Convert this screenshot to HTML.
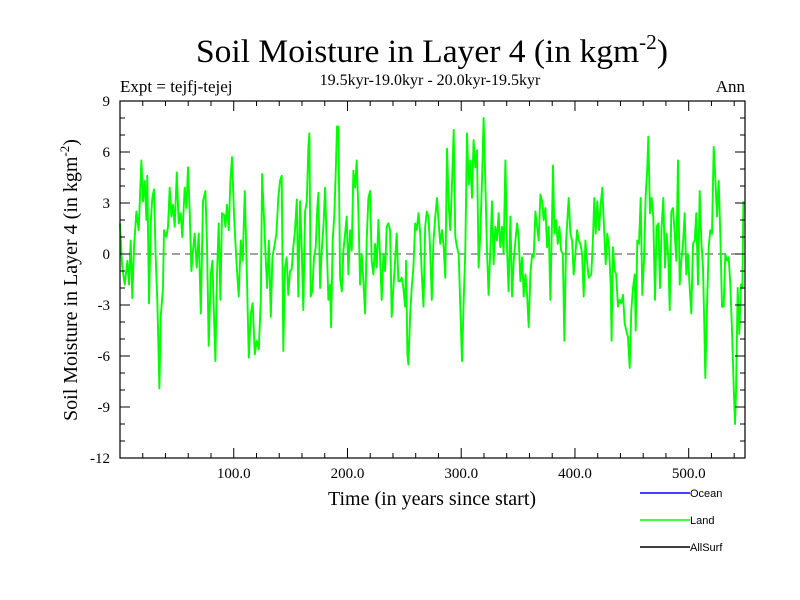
<!DOCTYPE html>
<html><head><meta charset="utf-8"><style>
body{margin:0;background:#fff}
svg{display:block;font-family:"Liberation Serif",serif}
</style></head><body>
<svg id="c" width="800" height="600">
<text x="432" y="62" text-anchor="middle" font-size="33" textLength="472" lengthAdjust="spacingAndGlyphs">Soil Moisture in Layer 4 (in kgm<tspan dy="-13" font-size="21">-2</tspan><tspan dy="13">)</tspan></text>
<text x="430" y="85" text-anchor="middle" font-size="16">19.5kyr-19.0kyr - 20.0kyr-19.5kyr</text>
<text x="120" y="92" font-size="17">Expt = tejfj-tejej</text>
<text x="745" y="92" text-anchor="end" font-size="17">Ann</text>
<text x="432" y="505" text-anchor="middle" font-size="20">Time (in years since start)</text>
<text transform="translate(77,280) rotate(-90)" text-anchor="middle" font-size="20">Soil Moisture in Layer 4 (in kgm<tspan dy="-8" font-size="13">-2</tspan><tspan dy="8">)</tspan></text>
<g id="axes"></g>
<g id="legend" font-family="Liberation Sans, sans-serif" font-size="11">
<line x1="640" y1="493" x2="690" y2="493" stroke="#0000ff" stroke-width="1.5"/>
<text x="690" y="497">Ocean</text>
<line x1="640" y1="520" x2="690" y2="520" stroke="#00ff00" stroke-width="1.5"/>
<text x="690" y="524">Land</text>
<line x1="640" y1="547" x2="690" y2="547" stroke="#000" stroke-width="1.5"/>
<text x="690" y="551">AllSurf</text>
</g>
</svg>
<script>
const years=[0,1.8,4.1,6.5,7.9,9.4,10.8,12.3,14.4,16.4,18.8,20.2,21.7,23.2,24.0,25.5,27.0,28.4,29.9,31.4,32.8,34.6,35.8,37.8,38.7,40.8,42.2,43.7,45.2,46.6,48.1,49.9,51.6,53.4,54.8,56.9,58.4,59.8,61.3,62.8,64.2,65.7,67.4,69.2,71.0,73.0,75.1,76.5,78.0,79.8,81.2,82.4,83.9,85.3,86.8,88.3,89.7,91.5,92.7,94.1,95.6,97.1,98.5,100.3,102.3,104.4,106.2,107.9,109.7,111.4,113.2,115.0,116.7,118.5,120.2,122.0,123.8,124.9,126.4,127.9,129.3,130.8,132.6,134.0,136.1,137.5,
139.2,140.7,142.2,143.6,145.1,146.6,148.0,149.5,151.0,152.4,153.9,155.4,156.8,158.3,159.8,161.2,162.7,164.2,165.6,166.5,167.7,169.1,170.6,172.1,173.5,174.4,175.9,177.3,178.8,180.3,181.7,183.2,184.7,185.6,187.0,188.5,189.7,190.8,192.0,193.5,195.0,196.4,197.9,199.3,200.8,202.3,203.7,205.2,206.7,208.1,209.6,211.1,212.5,214.0,215.5,216.9,218.4,219.9,221.3,222.8,224.3,225.7,227.2,228.7,230.1,231.6,233.1,234.5,236.0,237.5,238.9,240.4,241.9,243.3,244.8,246.3,247.7,249.2,250.7,251.5,252.7,253.6,255.1,256.5,258.0,259.5,260.9,262.4,263.9,265.3,266.8,268.3,269.7,271.2,272.7,274.1,275.6,
277.2,278.7,280.2,281.6,283.1,284.6,286.0,287.5,289.0,290.4,291.9,293.4,294.8,296.3,297.8,299.2,300.7,302.2,303.6,305.1,306.6,308.0,309.5,310.9,312.4,313.9,315.3,316.8,318.3,319.7,321.2,322.7,324.1,325.6,327.1,328.5,330.0,331.5,332.9,334.4,335.9,337.3,338.8,340.3,341.7,343.2,344.7,346.1,347.6,349.1,350.5,352.0,353.5,354.9,356.4,357.9,359.3,360.8,362.3,363.7,365.2,366.7,368.1,369.6,371.1,372.5,374.0,375.5,376.9,378.4,379.9,380.7,381.9,383.4,384.9,386.3,387.8,389.3,390.7,392.2,393.7,394.5,396.0,397.5,398.9,400.4,401.9,403.3,404.8,406.3,407.7,409.2,410.6,412.1,414.4,
415.8,417.0,418.2,419.6,421.1,422.6,424.0,425.5,427.0,428.4,429.9,431.4,432.2,433.4,434.9,436.3,437.8,439.3,440.7,442.2,443.7,445.1,446.6,448.1,449.5,451.0,452.5,453.4,454.8,456.3,457.8,459.2,460.7,462.2,463.6,464.5,466.0,467.4,468.9,470.4,471.8,473.3,474.8,476.2,477.7,479.2,480.6,482.1,483.3,484.7,486.2,487.7,489.1,490.6,492.1,493.5,495.0,496.5,497.9,499.4,500.9,502.3,503.8,505.3,506.7,508.2,509.7,511.1,512.6,513.8,514.6,516.1,517.6,519.0,520.5,522.0,523.4,524.9,526.4,527.8,529.3,530.8,532.2,533.7,535.2,536.6,538.1,539.6,540.7,541.6,543.1,544.5,546.0,547.2,548.1];
const land=[1.8,-0.6,-1.8,-0.4,-1.8,0.8,-2.6,0.4,2.5,1.4,5.5,3.1,4.3,2.0,4.6,-2.9,1.8,3.3,3.8,-0.2,-2.7,-7.9,-3.7,-2.0,1.4,1.0,1.6,3.9,2.2,2.9,1.6,4.8,1.8,2.4,1.0,3.9,2.7,5.1,2.5,-1.0,0.2,1.2,-0.8,1.2,-3.5,3.1,3.7,0.6,-5.4,-1.2,-0.4,-3.1,-6.3,-1.2,1.8,-2.7,2.4,2.3,1.6,2.9,1.4,4.3,5.7,2.2,-0.4,-2.5,0.8,-0.4,3.7,-0.8,-6.1,-3.5,-2.9,-5.9,-5.1,-5.6,-2.7,4.7,2.4,0.0,-2.0,0.8,-3.7,-0.2,0.6,1.2,
3.3,4.3,4.6,-5.7,-0.8,-0.2,-2.4,-1.0,-0.9,0.4,1.4,3.2,-2.5,3.1,0.2,-3.3,2.5,3.1,6.3,7.1,-2.5,-2.2,-0.2,0.4,2.7,3.6,-2.0,0.2,1.6,3.9,0.6,-2.7,-1.8,-4.3,0.8,2.4,4.9,7.5,7.5,-1.4,-2.2,0.2,1.2,2.2,-1.2,1.4,0.2,4.9,3.9,5.5,2.5,-1.8,0.0,-1.6,-3.5,0.8,3.3,3.7,-0.4,-1.2,0.6,-0.8,2.0,-0.2,-2.7,0.0,-1.0,1.6,1.8,1.4,-3.7,-2.0,-0.4,1.2,-1.6,-1.6,-1.4,-2.0,-3.1,-0.4,-5.9,-6.5,-3.5,-2.0,-0.8,1.8,1.4,2.4,1.2,-1.2,-3.1,1.6,2.5,2.2,0.2,-2.7,0.8,
2.2,3.3,1.8,0.6,1.4,0.4,-1.4,6.2,2.9,1.4,4.1,7.3,1.0,0.4,0.0,-3.1,-6.3,-2.7,0.2,7.1,4.1,5.5,3.3,6.7,5.1,6.1,-0.8,1.2,4.3,8.0,4.3,0.2,-2.4,0.2,3.1,-0.6,1.6,0.8,2.4,0.4,1.6,0.0,5.5,0.2,-2.2,2.2,-2.5,-0.4,0.8,1.8,1.0,-1.6,-0.2,-2.5,-1.2,-2.4,-4.3,-1.2,0.0,-0.2,2.5,1.6,0.8,3.5,3.1,2.0,2.7,0.4,1.6,-2.7,2.2,5.2,1.2,2.0,0.6,1.6,0.2,0.0,-5.1,0.8,2.4,3.3,1.2,0.8,-1.2,0.0,1.4,0.8,0.6,0.0,-2.5,0.8,-0.4,-1.4,-1.2,
0.8,3.3,1.2,3.1,1.4,2.9,3.9,1.6,-0.6,1.2,0.4,-1.8,-5.1,0.4,-1.0,-1.2,-3.1,-2.7,-2.9,-2.4,-4.1,-4.5,-4.9,-6.7,-3.3,-2.0,-1.2,-4.5,0.8,0.6,3.3,-2.4,-0.4,3.5,5.1,6.9,2.4,3.3,2.2,-2.7,1.6,1.8,-2.0,1.6,3.3,-0.8,1.2,-0.2,-3.3,2.5,2.7,1.2,-0.4,5.5,-1.8,-0.4,0.6,2.4,-1.2,0.0,-2.0,-3.5,0.6,0.8,2.4,-1.8,3.7,0.8,-0.8,-4.5,-7.3,-3.1,0.4,1.4,1.2,6.3,4.5,2.2,4.3,1.2,-3.1,-3.1,0.0,-0.4,-0.2,-1.8,-4.5,-7.8,-10.0,-8.2,-2.0,-4.7,-1.8,-2.0,3.1];
const yTicks=[-12,-9,-6,-3,0,3,6,9];
const xTicks=[100,200,300,400,500];
const xLabels=["100.0","200.0","300.0","400.0","500.0"];
const X0=120,X1=745,Y0=101,Y1=458,XMAX=549.5,YMIN=-12,YMAX=9;
const sx=v=>X0+v/XMAX*(X1-X0);
const sy=v=>Y1-(v-YMIN)/(YMAX-YMIN)*(Y1-Y0);
const NS="http://www.w3.org/2000/svg";
const g=document.getElementById('axes');
function mk(t,a){const e=document.createElementNS(NS,t);for(const k in a)e.setAttribute(k,a[k]);g.appendChild(e);return e;}
let z=mk('line',{x1:X0,x2:X1,y1:sy(0),y2:sy(0),stroke:'#444','stroke-dasharray':'8,5','stroke-width':1});


let d='';
for(let i=0;i<years.length;i++)d+=(i?'L':'M')+sx(years[i]).toFixed(1)+','+sy(land[i]).toFixed(1);
let p=mk('path',{d:d,fill:'none',stroke:'#00ff00','stroke-width':1.9,'stroke-linejoin':'round'});


let t='';
for(let v=YMIN;v<=YMAX;v++){const y=sy(v),L=(v%3===0)?10:5;t+=`M${X0},${y}h${L}M${X1},${y}h${-L}`;}
for(let v=0;v<=XMAX;v+=20){const x=sx(v),L=(v%100===0)?10:5;t+=`M${x},${Y1}v${-L}M${x},${Y0}v${L}`;}
let tk=mk('path',{d:t,stroke:'#000','stroke-width':1,fill:'none'});


let fr=mk('rect',{x:X0,y:Y0,width:X1-X0,height:Y1-Y0,fill:'none',stroke:'#000','stroke-width':1.2});


yTicks.forEach(v=>{const e=mk('text',{x:110,y:sy(v)+5,'text-anchor':'end','font-size':15});e.textContent=v;

});
xTicks.forEach((v,i)=>{const e=mk('text',{x:sx(v),y:478,'text-anchor':'middle','font-size':15});e.textContent=xLabels[i];

});
</script>
</body></html>
